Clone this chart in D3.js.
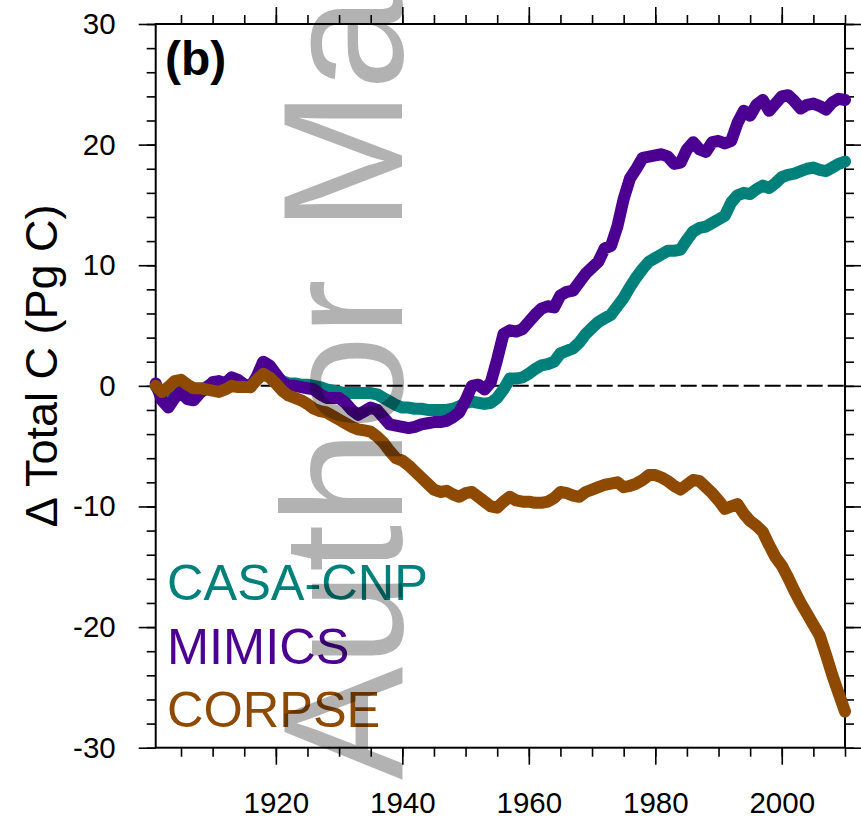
<!DOCTYPE html>
<html>
<head>
<meta charset="utf-8">
<script src="https://cdn.jsdelivr.net/npm/d3@7"></script>
<style>
  body { margin: 0; background: #fff; }
  text { font-family: "Liberation Sans", Arial, Helvetica, sans-serif; }
</style>
</head>
<body>
<div id="chart"></div>
<script>
// data (annual, 1901-2010)
const years = d3.range(1901, 2011);

const casaCnp = [
  0.0, -0.8, -1.2, -0.7, -0.3, -0.7, -0.8, -0.4, -0.1, 0.2,
  0.3, 0.2, 0.5, 0.4, 0.1, 0.0, 0.6, 1.5, 1.3, 0.8,
  0.4, 0.2, 0.2, 0.1, 0.1, 0.0, -0.1, -0.3, -0.4, -0.5,
  -0.6, -0.6, -0.6, -0.6, -0.6, -0.7, -1.0, -1.3, -1.6, -1.8,
  -1.8, -1.9, -1.9, -2.0, -2.0, -2.0, -2.0, -1.9, -1.7, -1.4,
  -1.3, -1.4, -1.5, -1.4, -1.0, -0.3, 0.6, 0.6, 0.7, 1.0,
  1.4, 1.7, 1.8, 2.0, 2.7, 2.9, 3.1, 3.6, 4.3, 4.8,
  5.3, 5.6, 5.9, 6.6, 7.3, 8.2, 9.0, 9.7, 10.3, 10.6,
  10.9, 11.2, 11.2, 11.3, 12.1, 12.8, 13.1, 13.2, 13.5, 13.8,
  14.1, 15.2, 15.8, 16.0, 15.9, 16.3, 16.6, 16.4, 16.8, 17.3,
  17.5, 17.6, 17.8, 18.0, 18.1, 17.9, 17.8, 18.1, 18.4, 18.6
];

const mimics = [
  0.2, -1.2, -1.8, -1.0, -0.5, -1.1, -1.2, -0.6, -0.2, 0.3,
  0.4, 0.2, 0.7, 0.5, 0.1, -0.1, 0.8, 2.0, 1.7, 1.0,
  0.3, 0.0, 0.0, -0.1, -0.2, -0.3, -0.7, -1.0, -1.0, -1.0,
  -1.4, -2.0, -2.4, -2.1, -1.8, -2.0, -2.6, -3.2, -3.3, -3.4,
  -3.5, -3.4, -3.2, -3.1, -3.0, -3.0, -2.9, -2.6, -2.2, -1.2,
  0.0, 0.1, -0.3, 0.3, 2.2, 4.3, 4.6, 4.5, 4.7, 5.3,
  5.9, 6.4, 6.6, 6.5, 7.5, 7.8, 7.9, 8.6, 9.3, 9.8,
  10.3, 11.4, 11.6, 13.2, 15.5, 17.2, 18.0, 18.9, 19.0, 19.1,
  19.2, 19.0, 18.4, 18.5, 19.6, 20.2, 19.6, 19.4, 20.2, 20.3,
  20.1, 20.3, 21.8, 22.8, 22.4, 23.3, 23.7, 22.8, 23.4, 24.0,
  24.1, 23.6, 23.0, 23.3, 23.4, 23.2, 22.9, 23.5, 23.8, 23.7
];

const corpse = [
  0.0, -0.5, -0.1, 0.4, 0.5, 0.1, -0.2, -0.2, -0.3, -0.4,
  -0.5, -0.3, 0.0, -0.1, -0.1, -0.1, 0.5, 1.0, 0.7, 0.2,
  -0.4, -0.8, -1.0, -1.2, -1.5, -1.9, -2.1, -2.2, -2.5, -2.8,
  -3.1, -3.4, -3.6, -3.7, -3.8, -4.2, -4.7, -5.4, -6.0, -6.2,
  -6.6, -7.1, -7.6, -8.1, -8.6, -8.8, -8.7, -9.0, -9.2, -8.9,
  -8.8, -9.2, -9.6, -10.0, -10.1, -9.6, -9.2, -9.5, -9.6, -9.6,
  -9.7, -9.7, -9.6, -9.3, -8.8, -8.9, -9.1, -9.2, -8.8, -8.6,
  -8.4, -8.2, -8.1, -8.0, -8.4, -8.3, -8.1, -7.8, -7.4, -7.4,
  -7.6, -7.9, -8.3, -8.6, -8.2, -7.8, -7.9, -8.4, -8.9, -9.5,
  -10.2, -10.0, -9.8, -10.6, -11.2, -11.6, -12.1, -13.2, -14.2, -14.9,
  -15.9, -17.0, -18.0, -18.9, -19.8, -20.7, -22.3, -24.0, -25.5, -27.0
];

const seriesNames = ['CASA-CNP', 'MIMICS', 'CORPSE'];
const seriesColors = ['#00807b', '#4b0092', '#8e4a00'];
const seriesValues = [casaCnp, mimics, corpse];

const xMajorTicks = [1920, 1940, 1960, 1980, 2000];
const xMinorTicks = d3.range(1905, 2011, 5);
const yMajorTicks = [-30, -20, -10, 0, 10, 20, 30];
const yMinorTicks = d3.range(-30, 31, 2);

const width = 861;
const height = 820;
const plot = { left: 155.7, right: 845, top: 24, bottom: 747.7 };

const svg = d3
  .select('#chart')
  .append('svg')
  .attr('width', width)
  .attr('height', height);

const x = d3.scaleLinear().domain([1901, 2010]).range([plot.left, plot.right]);
const y = d3.scaleLinear().domain([-30, 30]).range([plot.bottom, plot.top]);

// ticks on all four sides, pointing outward
const addAxis = (axis, transform, showLabels) => {
  const g = svg.append('g').attr('transform', transform).call(axis);
  g.select('.domain').remove();
  g.selectAll('line').attr('stroke', '#000').attr('stroke-width', 1.6);
  if (!showLabels) g.selectAll('text').remove();
  return g;
};

addAxis(d3.axisBottom(x).tickValues(xMinorTicks).tickSize(9), `translate(0,${plot.bottom})`, false);
addAxis(d3.axisTop(x).tickValues(xMinorTicks).tickSize(9), `translate(0,${plot.top})`, false);
addAxis(d3.axisTop(x).tickValues(xMajorTicks).tickSize(17), `translate(0,${plot.top})`, false);
addAxis(d3.axisLeft(y).tickValues(yMinorTicks).tickSize(9), `translate(${plot.left},0)`, false);
addAxis(d3.axisRight(y).tickValues(yMinorTicks).tickSize(9), `translate(${plot.right},0)`, false);
addAxis(d3.axisRight(y).tickValues(yMajorTicks).tickSize(17), `translate(${plot.right},0)`, false);

const xAxis = addAxis(
  d3.axisBottom(x).tickValues(xMajorTicks).tickSize(17).tickPadding(27).tickFormat((d) => String(d)),
  `translate(0,${plot.bottom})`, true);
xAxis.selectAll('text').attr('font-size', 29.5).attr('fill', '#000').attr('font-family', null);

const yAxis = addAxis(
  d3.axisLeft(y).tickValues(yMajorTicks).tickSize(17).tickPadding(23).tickFormat((d) => String(d)),
  `translate(${plot.left},0)`, true);
yAxis.selectAll('text').attr('font-size', 29.5).attr('fill', '#000').attr('font-family', null);

// frame
svg.append('rect')
  .attr('x', plot.left)
  .attr('y', plot.top)
  .attr('width', plot.right - plot.left)
  .attr('height', plot.bottom - plot.top)
  .attr('fill', 'none')
  .attr('stroke', '#000')
  .attr('stroke-width', 2);

// zero reference line
svg.append('line')
  .attr('x1', plot.left)
  .attr('x2', plot.right)
  .attr('y1', y(0))
  .attr('y2', y(0))
  .attr('stroke', '#000')
  .attr('stroke-width', 2)
  .attr('stroke-dasharray', '16 5');

const line = d3.line().x((d) => x(d[0])).y((d) => y(d[1]));

seriesValues.forEach((vals, i) => {
  svg.append('path')
    .datum(years.map((yr, j) => [yr, vals[j]]))
    .attr('d', line)
    .attr('fill', 'none')
    .attr('stroke', seriesColors[i])
    .attr('stroke-width', 12)
    .attr('stroke-linejoin', 'round')
    .attr('stroke-linecap', 'round');
});

// legend text
svg.selectAll('.legend')
  .data(seriesNames)
  .enter()
  .append('text')
  .attr('x', 167)
  .attr('y', (d, i) => 600 + i * 63.5)
  .attr('font-size', 50.5)
  .attr('fill', (d, i) => seriesColors[i])
  .text((d) => d);

// panel label
svg.append('text')
  .attr('x', 165)
  .attr('y', 75)
  .attr('font-size', 48)
  .attr('font-weight', 'bold')
  .text('(b)');

// y axis title
svg.append('text')
  .attr('transform', `translate(57,${(plot.top + plot.bottom) / 2 - 20}) rotate(-90)`)
  .attr('text-anchor', 'middle')
  .attr('font-size', 45)
  .text('\u0394 Total C (Pg C)');

// watermark
svg.append('text')
  .attr('transform', 'translate(402,780) rotate(-90)')
  .attr('font-size', 170)
  .attr('fill', '#000')
  .attr('fill-opacity', 0.3)
  .text('Author Manuscript');
</script>
</body>
</html>
